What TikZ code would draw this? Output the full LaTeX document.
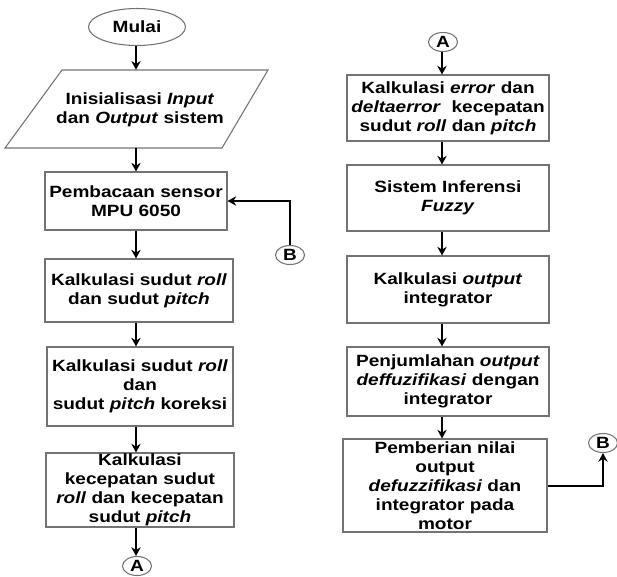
\documentclass[tikz,border=0pt]{standalone}
\usepackage{fontspec}
\setmainfont{Liberation Sans}[FakeStretch=1.17]
\usetikzlibrary{shapes.geometric,arrows.meta}
\tikzset{
  txt/.style={font=\fontsize{12.2}{14.3}\selectfont\bfseries, align=center, inner sep=0pt},
  box/.style={txt, draw=black!55, line width=0.8pt, rectangle},
  conn/.style={txt, draw=black!55, line width=0.8pt, ellipse, minimum width=21.75pt, minimum height=14.25pt},
  arr/.style={line width=1.5pt, -{Stealth[length=6.5pt,width=7pt]}},
}
\begin{document}
\begin{tikzpicture}[x=0.75pt,y=-0.75pt]
\useasboundingbox (0,0) rectangle (617,576);
\coordinate (colL) at (136,0);
\coordinate (colR) at (442,0);
% left column
\node[txt, draw=black!55, line width=0.8pt, ellipse, minimum width=72.75pt, minimum height=27.75pt] (start) at (137,27) {Mulai};
\draw[draw=black!55, line width=0.8pt] (62,70) -- (268,70) -- (222,148) -- (5,148) -- cycle;
\node[txt, minimum width=100pt, minimum height=58.5pt] (inp) at (137,109) {};
\node[txt] at (140,109.5) {Inisialisasi \textit{Input}\\dan \textit{Output} sistem};
\node[box, minimum width=136.5pt, minimum height=43.5pt] (p1) at (136,201) {Pembacaan sensor\\MPU 6050};
\node[box, minimum width=141pt, minimum height=47.25pt] (k1) at (139,290.5) {Kalkulasi sudut \textit{roll}\\dan sudut \textit{pitch}};
\node[box, minimum width=139.5pt, minimum height=59.25pt] (k2) at (140,386.5) {Kalkulasi sudut \textit{roll}\\dan\\sudut \textit{pitch} koreksi};
\node[box, minimum width=141pt, minimum height=55.5pt] (k3) at (140,490) {Kalkulasi\\kecepatan sudut\\\textit{roll} dan kecepatan\\sudut \textit{pitch}};
\node[conn] (abot) at (137,566) {A};
\node[conn] (bl) at (290,255) {B};
% right column
\node[conn] (atop) at (443,42) {A};
\node[box, minimum width=151.5pt, minimum height=49.5pt] (r1) at (448,108) {Kalkulasi \textit{error} dan\\\textit{deltaerror}\ \ kecepatan\\sudut \textit{roll} dan \textit{pitch}};
\node[box, minimum width=151.5pt, minimum height=49.5pt] (r2) at (448,198) {Sistem Inferensi\\\textit{Fuzzy}};
\node[box, minimum width=151.5pt, minimum height=50.25pt] (r3) at (448,289.5) {Kalkulasi \textit{output}\\integrator};
\node[box, minimum width=151.5pt, minimum height=51.75pt] (r4) at (448,381.5) {Penjumlahan \textit{output}\\\textit{deffuzifikasi} dengan\\integrator};
\node[box, minimum width=153pt, minimum height=69.75pt] (r5) at (445,485.5) {Pemberian nilai\\output\\\textit{defuzzifikasi} dan\\integrator pada\\motor};
\node[conn] (br) at (603,443) {B};
% connectors left
\draw[arr] (start.south -| colL) -- (inp.north -| colL);
\draw[arr] (inp.south -| colL) -- (p1.north -| colL);
\draw[arr] (p1.south -| colL) -- (k1.north -| colL);
\draw[arr] (k1.south -| colL) -- (k2.north -| colL);
\draw[arr] (k2.south -| colL) -- (k3.north -| colL);
\draw[arr] (k3.south -| colL) -- (abot.north -| colL);
\draw[arr] (bl.north) |- (p1.east);
% connectors right
\draw[arr] (atop.south -| colR) -- (r1.north -| colR);
\draw[arr] (r1.south -| colR) -- (r2.north -| colR);
\draw[arr] (r2.south -| colR) -- (r3.north -| colR);
\draw[arr] (r3.south -| colR) -- (r4.north -| colR);
\draw[arr] (r4.south -| colR) -- (r5.north -| colR);
\draw[arr] (r5.east) -| (br.south);
\end{tikzpicture}
\end{document}
